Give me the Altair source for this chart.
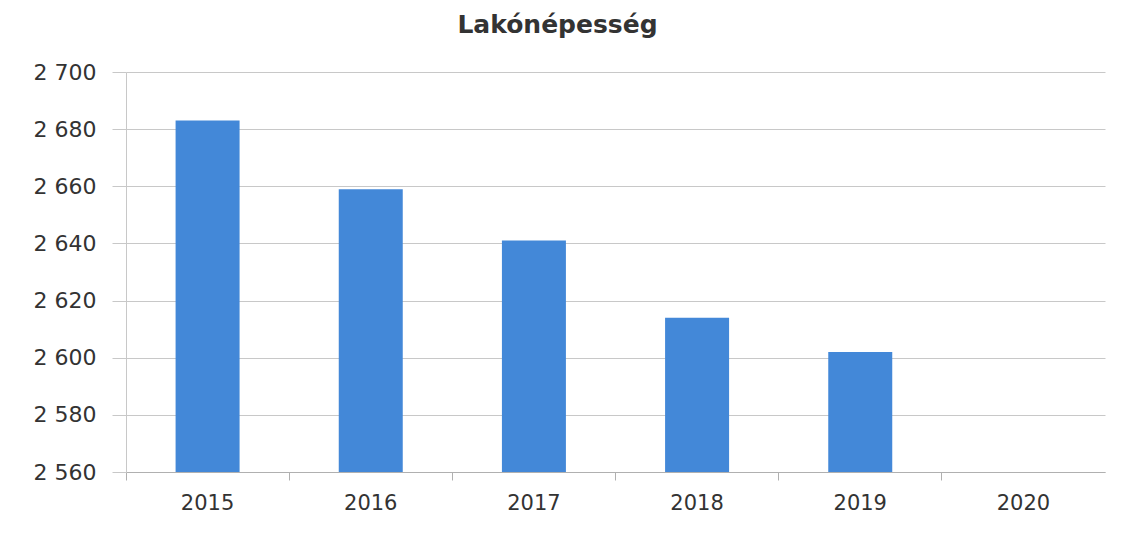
import altair as alt
import pandas as pd

years = ["2015", "2016", "2017", "2018", "2019", "2020"]
population = [2683, 2659, 2641, 2614, 2602, None]

df = pd.DataFrame({"year": years, "value": population})

chart = alt.Chart(df).mark_bar(color="#4388d8", size=64, clip=True).encode(
    x=alt.X("year:N", sort=years, scale=alt.Scale(domain=years, paddingInner=0, paddingOuter=0),
            axis=alt.Axis(title=None, labelAngle=0, labelFontSize=21, labelColor="#333333",
                          labelFont="DejaVu Sans", labelPadding=12, tickSize=8, tickColor="#b0b0b0",
                          domainColor="#b0b0b0", bandPosition=0, grid=False)),
    y=alt.Y("value:Q", scale=alt.Scale(domain=[2560, 2700], zero=False, nice=False),
            axis=alt.Axis(title=None, values=list(range(2560, 2701, 20)),
                          labelExpr="replace(format(datum.value, ',d'), ',', ' ')",
                          labelFontSize=22, labelColor="#333333", labelFont="DejaVu Sans",
                          labelPadding=16, tickSize=14, tickColor="#c8c8c8",
                          domainColor="#c8c8c8", gridColor="#c8c8c8")),
).properties(
    width=979, height=400,
    title=alt.TitleParams("Lakónépesség", fontSize=25, font="DejaVu Sans", fontWeight="bold",
                          color="#333333", offset=23, dx=-58),
    padding={"left": 25, "top": 5, "right": 5, "bottom": 5},
).configure_view(stroke=None)

chart.save("out.html", embed_options={"renderer": "svg", "actions": False})
